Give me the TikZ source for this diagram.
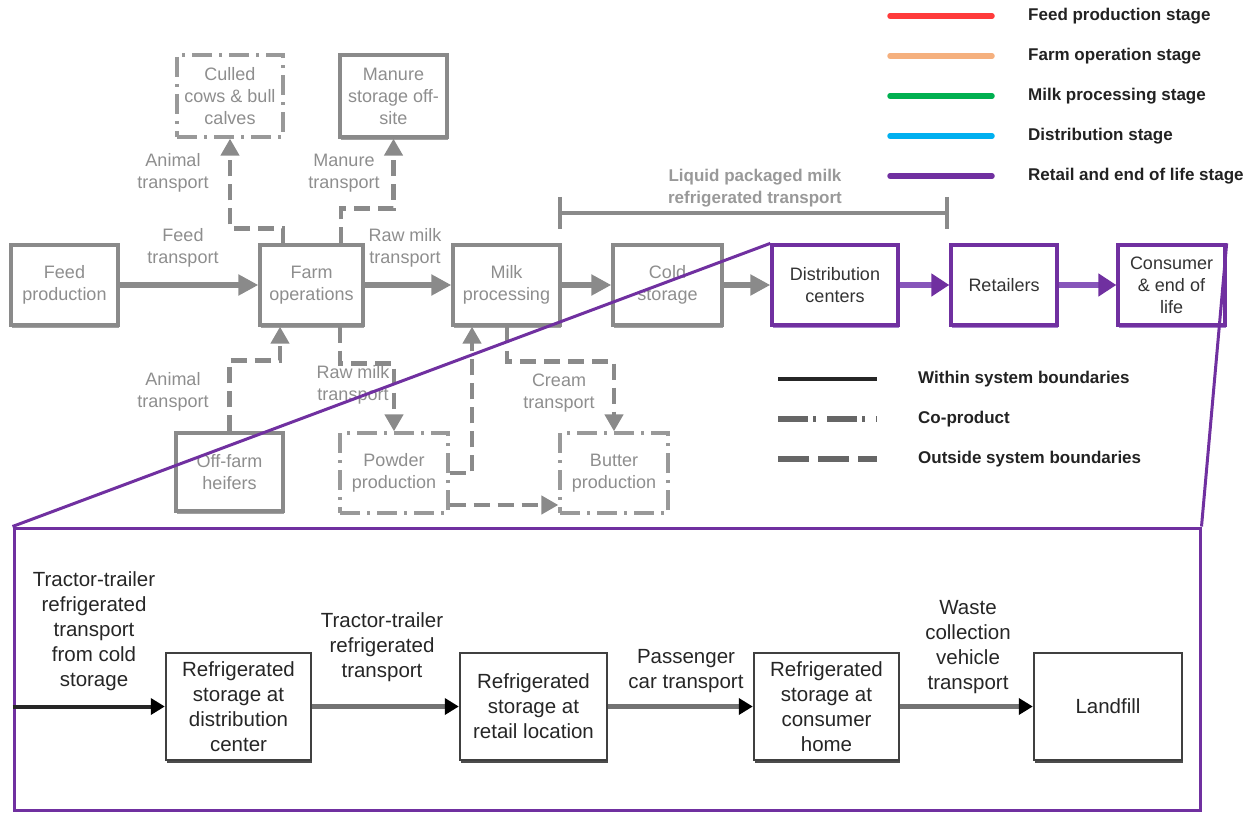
\documentclass[tikz,border=0pt]{standalone}
\usepackage{fontspec}
\setmainfont{Liberation Sans}
\usetikzlibrary{arrows.meta,shadows}

\definecolor{boxgray}{HTML}{8A8A8A}
\definecolor{txtgray}{HTML}{8E8E8E}
\definecolor{dotgray}{HTML}{999999}
\definecolor{stagepurple}{HTML}{7030A0}
\definecolor{arrowpurple}{HTML}{8756BA}
\definecolor{stagered}{HTML}{FF3B3B}
\definecolor{stageorange}{HTML}{F5B07E}
\definecolor{stagegreen}{HTML}{00B050}
\definecolor{stagecyan}{HTML}{00B0F0}
\definecolor{legtext}{HTML}{222222}

\tikzset{
  basebox/.style={line width=3.3pt, fill=white, align=center, inner sep=0pt,
    minimum width=107pt, minimum height=80pt, font=\fontsize{18}{22}\selectfont},
  graybox/.style={basebox, draw=boxgray, text=txtgray,
    drop shadow={shadow xshift=0.5pt, shadow yshift=-3pt, fill=boxgray!80, opacity=1}},
  coprodbox/.style={basebox, draw=dotgray, text=txtgray,
    dash pattern=on 20pt off 7pt on 3pt off 7pt},
  retailbox/.style={basebox, draw=stagepurple, text=black!80,
    drop shadow={shadow xshift=0.5pt, shadow yshift=-3pt, fill=arrowpurple!75, opacity=1}},
  lowbox/.style={draw=black!75, line width=2.4pt, fill=white, align=center, inner sep=0pt,
    text=black!85, minimum width=146pt, minimum height=107pt,
    font=\fontsize{20.5}{25}\selectfont,
    drop shadow={shadow xshift=0.5pt, shadow yshift=-3pt, fill=black!70, opacity=1}},
  toplabel/.style={text=txtgray, align=center, inner sep=0pt, font=\fontsize{18}{22}\selectfont},
  lowlabel/.style={text=black!85, align=center, inner sep=0pt, font=\fontsize{20.5}{25}\selectfont},
  legendlabel/.style={text=legtext, anchor=west, inner sep=0pt, font=\fontsize{17}{20}\selectfont\bfseries},
  grayflow/.style={draw=boxgray, line width=6pt,
    -{Triangle[length=20pt, width=20pt, color=boxgray]}},
  dashflow/.style={draw=boxgray, line width=4.5pt, dash pattern=on 16pt off 8pt,
    -{Triangle[length=17pt, width=18pt, color=boxgray]}},
  purpleflow/.style={draw=arrowpurple, line width=6.5pt,
    -{Triangle[length=18pt, width=22pt, color=stagepurple]}},
  lowflow/.style={draw=black!55, line width=5.5pt,
    -{Triangle[length=14pt, width=16pt, color=black]}},
  zoomline/.style={draw=stagepurple, line width=3pt},
  stageline/.style={line width=5.5pt, line cap=round},
}

\begin{document}
\begin{tikzpicture}[x=1pt, y=-1pt]
\useasboundingbox (0,0) rectangle (1252,813);

% ---- main supply chain ----
\node[graybox, minimum width=107pt] (feed)   at (64.5,285)  {Feed\\production};
\node[graybox, minimum width=103pt] (farm)   at (311.5,285) {Farm\\operations};
\node[graybox, minimum width=107pt] (milk)   at (506.5,285) {Milk\\processing};
\node[graybox, minimum width=109pt] (cold)   at (667.5,285) {Cold\\storage};
\node[retailbox, minimum width=126pt] (dist) at (835,285)   {Distribution\\centers};
\node[retailbox, minimum width=106pt] (retail) at (1004,285) {Retailers};
\node[retailbox, minimum width=107pt] (consumer) at (1171.5,285) {Consumer\\\& end of\\life};

% ---- side products and inputs ----
\node[coprodbox, minimum width=106pt, minimum height=82pt] (culled) at (230,96) {Culled\\cows \& bull\\calves};
\node[graybox, minimum height=82pt] (manure) at (393.5,96) {Manure\\storage off-\\site};
\node[graybox, minimum height=78pt] (heifers) at (229.5,472) {Off-farm\\heifers};
\node[coprodbox, minimum width=108pt] (powder) at (394,473) {Powder\\production};
\node[coprodbox, minimum width=108pt] (butter) at (614,473) {Butter\\production};

% ---- transport labels ----
\node[toplabel] (lfeed)   at (183,248) {Feed\\transport};
\node[toplabel] (lraw)    at (405,248) {Raw milk\\transport};
\node[toplabel] (lanim1)  at (173,173) {Animal\\transport};
\node[toplabel] (lmanure) at (344,173) {Manure\\transport};
\node[toplabel] (lanim2)  at (173,392) {Animal\\transport};
\node[toplabel] (lraw2)   at (353,385) {Raw milk\\transport};
\node[toplabel] (lcream)  at (559,393) {Cream\\transport};

% ---- main flows ----
\draw[grayflow] (feed.east) -- (farm.west);
\draw[grayflow] (farm.east) -- (milk.west);
\draw[grayflow] (milk.east) -- (cold.west);
\draw[grayflow] (cold.east) -- (dist.west);
\draw[purpleflow] (dist.east) -- (retail.west);
\draw[purpleflow] (retail.east) -- (consumer.west);

% ---- co-product and outside flows ----
\draw[dashflow] ([xshift=-28.5pt]farm.north) -- ++(0,-15) -| (culled.south);
\draw[dashflow] ([xshift=29.5pt]farm.north) -- ++(0,-35) -| (manure.south);
\draw[dashflow] (heifers.north) -- ++(0,-71) -| ([xshift=-31.5pt]farm.south);
\draw[dashflow] ([xshift=28.5pt]farm.south) -- ++(0,37) -| (powder.north);
\draw[dashflow] (powder.east) -| ([xshift=-34.5pt]milk.south);
\draw[dashflow] ([yshift=-32pt]powder.east) -- ([yshift=-32pt]butter.west);
\draw[dashflow] ([xshift=0.5pt]milk.south) -- ++(0,35) -| (butter.north);

% ---- refrigerated transport span ----
\draw[draw=boxgray, line width=3.5pt] (560,213) -- (947,213);
\draw[draw=boxgray, line width=3.5pt] (560,197) -- (560,229);
\draw[draw=boxgray, line width=3.5pt] (947,197) -- (947,229);
\node[text=dotgray, align=center, inner sep=0pt, font=\fontsize{17}{22}\selectfont\bfseries]
  (lliquid) at (755,188) {Liquid packaged milk\\refrigerated transport};

% ---- stage legend ----
\draw[stageline, stagered]    (890,16)  -- (992,16);
\draw[stageline, stageorange] (890,56)  -- (992,56);
\draw[stageline, stagegreen]  (890,96)  -- (992,96);
\draw[stageline, stagecyan]   (890,136) -- (992,136);
\draw[stageline, stagepurple] (890,176) -- (992,176);
\node[legendlabel] (k1) at (1028,16)  {Feed production stage};
\node[legendlabel] (k2) at (1028,56)  {Farm operation stage};
\node[legendlabel] (k3) at (1028,96)  {Milk processing stage};
\node[legendlabel] (k4) at (1028,136) {Distribution stage};
\node[legendlabel] (k5) at (1028,176) {Retail and end of life stage};

% ---- boundary legend ----
\draw[line width=4.5pt, black!85] (778,379) -- (877,379);
\draw[line width=5.5pt, black!60, dash pattern=on 30pt off 5pt on 3pt off 11pt] (778,419) -- (877,419);
\draw[line width=5.5pt, black!60, dash pattern=on 31pt off 9pt] (778,459) -- (877,459);
\node[legendlabel] (b1) at (918,379) {Within system boundaries};
\node[legendlabel] (b2) at (918,419) {Co-product};
\node[legendlabel] (b3) at (918,459) {Outside system boundaries};

% ---- detail panel: retail and end of life ----
\node[draw=stagepurple, line width=3pt, minimum width=1186pt, minimum height=282pt, inner sep=0pt]
  (panel) at (607,669) {};
\node[lowbox, minimum width=145pt] (rdc)  at (238.5,706.5) {Refrigerated\\storage at\\distribution\\center};
\node[lowbox, minimum width=147pt] (rrl)  at (533.5,706.5) {Refrigerated\\storage at\\retail location};
\node[lowbox, minimum width=145pt] (rch)  at (826.5,706.5) {Refrigerated\\storage at\\consumer\\home};
\node[lowbox, minimum width=148pt] (land) at (1108,706.5)  {Landfill};

\node[lowlabel] (t0) at (94,631)  {Tractor-trailer\\refrigerated\\transport\\from cold\\storage};
\node[lowlabel] (t1) at (382,647) {Tractor-trailer\\refrigerated\\transport};
\node[lowlabel] (t2) at (686,671) {Passenger\\car transport};
\node[lowlabel] (t3) at (968,647) {Waste\\collection\\vehicle\\transport};

\draw[draw=black!85, line width=4pt, -{Triangle[length=14pt, width=16pt, color=black]}]
  (rdc.west -| panel.west) -- (rdc.west);
\draw[lowflow] (rdc.east) -- (rrl.west);
\draw[lowflow] (rrl.east) -- (rch.west);
\draw[lowflow] (rch.east) -- (land.west);

% ---- zoom lines from the retail stage to the panel ----
\draw[zoomline] (dist.north west) -- (panel.north west);
\draw[zoomline] (consumer.north east) -- (panel.north east);
\end{tikzpicture}
\end{document}
